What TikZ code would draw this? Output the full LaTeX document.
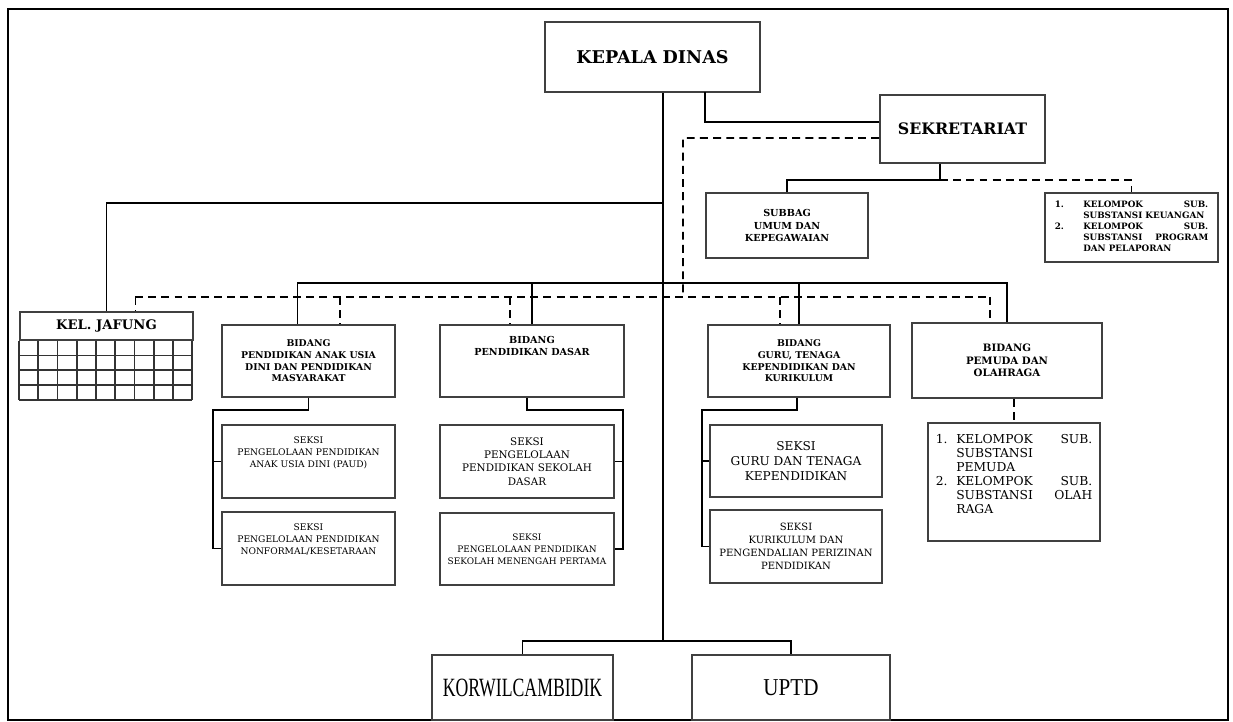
\documentclass[tikz,border=0pt]{standalone}
\usepackage{fontspec}
\setmainfont{DejaVu Serif}
\newfontfamily\timesfont{Liberation Serif}
\tikzstyle{box} = [rectangle, draw=black!75, line width=1pt, align=center, inner sep=2pt]
\tikzstyle{line} = [draw, line width=1pt]
\tikzstyle{dline} = [draw, line width=1pt, dash pattern=on 4.5pt off 3pt]
\newcommand{\fs}[2]{\fontsize{#1}{#2}\selectfont}

\begin{document}
\begin{tikzpicture}[x=0.02cm, y=-0.02cm]
	\useasboundingbox (0,0) rectangle (1233,722);
	\draw[line width=1pt] (8,9) rectangle (1228,720);

	% pimpinan dan sekretariat
	\node [box, minimum width=4.3cm, minimum height=1.4cm, font=\bfseries\fs{10}{12}] (kepala) at (652.5,57) {KEPALA DINAS};
	\node [box, minimum width=3.3cm, minimum height=1.36cm, font=\bfseries\fs{9}{11}] (sekretariat) at (962.5,129) {SEKRETARIAT};
	\node [box, minimum width=3.24cm, minimum height=1.3cm, font=\bfseries\fs{5.5}{7}] (subbag) at (787,225.5) {SUBBAG\\UMUM DAN\\KEPEGAWAIAN};
	\node [box, minimum width=3.46cm, minimum height=1.38cm, font=\bfseries\fs{5}{6.3}] (kelsekre) at (1131.5,227.5) {\begin{tabular}{@{}l@{\hspace{11pt}}p{2.5cm}@{}}
		1. & KELOMPOK \hfill SUB.\\ & SUBSTANSI KEUANGAN\\ 2. & KELOMPOK \hfill SUB.\\ & SUBSTANSI \hfill PROGRAM\\ & DAN PELAPORAN \end{tabular}};

	% kelompok jabatan fungsional
	\node [box, minimum width=3.46cm, minimum height=0.56cm, font=\bfseries\fs{7.5}{9}] (jafung) at (106.5,326) {KEL. JAFUNG};
	\foreach \i in {0,...,9}
		\path[line, draw=black!80] ([xshift=\i*0.3844cm]jafung.south west) -- ++(0,59);
	\foreach \j in {1,...,4}
		\path[line, draw=black!80] ([yshift=-\j*0.295cm]jafung.south west) -- ++(173,0);

	% bidang
	\node [box, minimum width=3.46cm, minimum height=1.44cm, font=\bfseries\fs{5.3}{6.6}] (bpaud) at (308.5,361) {BIDANG\\PENDIDIKAN ANAK USIA\\DINI DAN PENDIDIKAN\\MASYARAKAT};
	\node [box, minimum width=3.68cm, minimum height=1.44cm, font=\bfseries\fs{5.5}{6.8}] (bdasar) at (532,361) {BIDANG\\PENDIDIKAN DASAR\\[10pt]};
	\node [box, minimum width=3.64cm, minimum height=1.44cm, font=\bfseries\fs{5.3}{6.6}] (bguru) at (799,361) {BIDANG\\GURU, TENAGA\\KEPENDIDIKAN DAN\\KURIKULUM};
	\node [box, minimum width=3.8cm, minimum height=1.5cm, font=\bfseries\fs{5.8}{7.2}] (bpemuda) at (1007,360.5) {BIDANG\\PEMUDA DAN\\OLAHRAGA};

	% seksi
	\node [box, minimum width=3.46cm, minimum height=1.46cm, font=\fs{5.2}{6.8}] (spaud1) at (308.5,461.5) {SEKSI\\PENGELOLAAN PENDIDIKAN\\ANAK USIA DINI (PAUD)\\[4pt]};
	\node [box, minimum width=3.46cm, minimum height=1.46cm, font=\fs{5.2}{6.8}] (spaud2) at (308.5,548.5) {SEKSI\\PENGELOLAAN PENDIDIKAN\\NONFORMAL/KESETARAAN\\[4pt]};
	\node [box, minimum width=3.48cm, minimum height=1.46cm, font=\fs{5.9}{7.6}] (sdasar1) at (527,461.5) {SEKSI\\PENGELOLAAN\\PENDIDIKAN SEKOLAH\\DASAR};
	\node [box, minimum width=3.48cm, minimum height=1.44cm, font=\fs{5.1}{6.8}] (sdasar2) at (527,549) {SEKSI\\PENGELOLAAN PENDIDIKAN\\SEKOLAH MENENGAH PERTAMA};
	\node [box, minimum width=3.44cm, minimum height=1.44cm, font=\fs{6.9}{8.5}] (sguru1) at (796,461) {SEKSI\\GURU DAN TENAGA\\KEPENDIDIKAN};
	\node [box, minimum width=3.44cm, minimum height=1.46cm, font=\fs{5.7}{7.3}] (sguru2) at (796,546.5) {SEKSI\\KURIKULUM DAN\\PENGENDALIAN PERIZINAN\\PENDIDIKAN};
	\node [box, minimum width=3.44cm, minimum height=2.36cm, font=\fs{7}{8}] (kelpemuda) at (1014,482) {\begin{tabular}{@{}l@{\hspace{5pt}}p{2.72cm}@{}}
		1. & KELOMPOK \hfill SUB.\\ & SUBSTANSI\\ & PEMUDA\\ 2. & KELOMPOK \hfill SUB.\\ & SUBSTANSI \hfill OLAH\\ & RAGA \end{tabular}\\[6pt]};

	% unit bawah
	\node [box, minimum width=3.62cm, minimum height=1.3cm, font=\timesfont\fs{12}{14}] (korwil) at (522.5,687.5) {\scalebox{0.84}[1.25]{KORWILCAMBIDIK}};
	\node [box, minimum width=3.96cm, minimum height=1.3cm, font=\timesfont\fs{12}{14}] (uptd) at (791,687.5) {\scalebox{1}[1.15]{UPTD}};

	% garis komando
	\coordinate (trunk) at (663,642);
	\coordinate (jbend) at (663,203);
	\coordinate (sbend) at (705,92);
	\coordinate (bbar) at (663,283);
	\coordinate (sj) at (940,180);
	\coordinate (pj) at (213,410);
	\coordinate (dj) at (623,410);
	\coordinate (gj) at (702,410);
	\path [line] (kepala.south -| trunk) -- (trunk);
	\path [line] (jbend) -| (jafung.north);
	\path [line] (sbend) |- ([yshift=0.14cm]sekretariat.west);
	\path [line] (sekretariat.south -| sj) -- (sj) -| (subbag.north);
	\path [line] ([xshift=-0.22cm]bpaud.north) |- (bpemuda.north |- bbar) -- (bpemuda.north);
	\foreach \n in {bdasar, bguru}
		\path [line] (\n.north |- bbar) -- (\n.north);
	\path [line] (bpaud.south) |- (pj) |- (spaud2.west);
	\path [line] (pj |- spaud1.west) -- (spaud1.west);
	\path [line] ([xshift=-0.1cm]bdasar.south) |- (dj) |- (sdasar2.east);
	\path [line] (dj |- sdasar1.east) -- (sdasar1.east);
	\path [line] ([xshift=-0.04cm]bguru.south) |- (gj) |- (sguru2.west);
	\path [line] (gj |- sguru1.west) -- (sguru1.west);
	\path [line] (korwil.north) -- ++(0,-13) -| (uptd.north);

	% garis koordinasi
	\coordinate (dtop) at (683,138);
	\coordinate (dl) at (135,297);
	\coordinate (dr) at (990,297);
	\path [dline] ([yshift=-0.18cm]sekretariat.west) -- (dtop) -- (dtop |- dl);
	\path [dline] (dl) -- (dr);
	\foreach \n/\d in {jafung/29, bpaud/31.5, bdasar/-22, bguru/-19, bpemuda/-17}{
		\coordinate (tmp) at ([xshift=\d*0.02cm]\n.north);
		\path [dline] (tmp |- dl) -- (tmp);
	}
	\path [dline] (sj) -| (kelsekre.north);
	\path [dline] (kelpemuda.north |- bpemuda.south) -- (kelpemuda.north);
\end{tikzpicture}
\end{document}
